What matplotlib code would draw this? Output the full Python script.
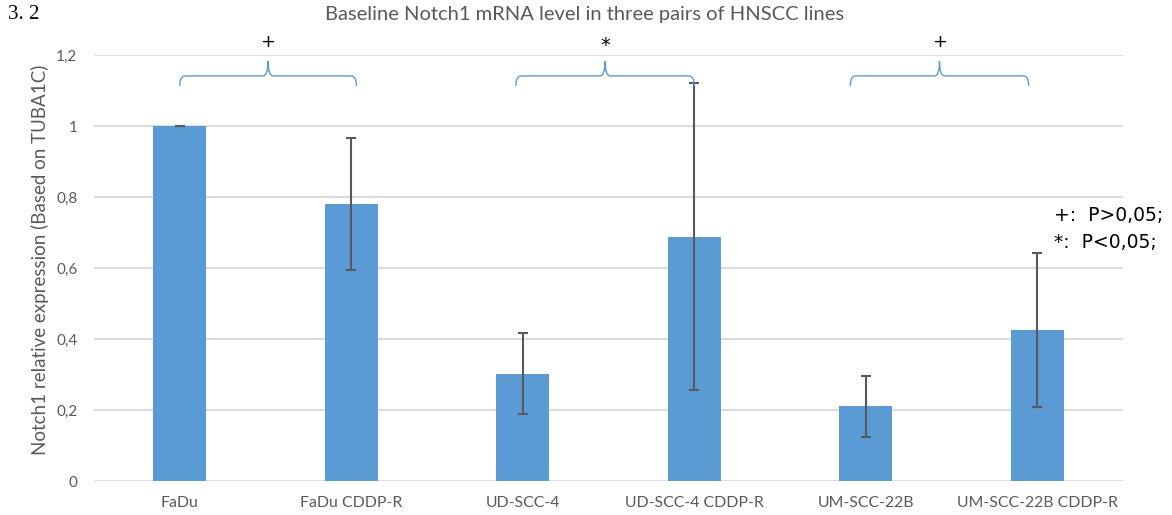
import matplotlib
matplotlib.use("Agg")
import matplotlib.pyplot as plt
from matplotlib.path import Path
from matplotlib.patches import PathPatch

# Notch1 expression per cell line (relative to TUBA1C)
cell_lines = ["FaDu", "FaDu CDDP-R", "UD-SCC-4", "UD-SCC-4 CDDP-R",
              "UM-SCC-22B", "UM-SCC-22B CDDP-R"]
expression = [1.0, 0.78, 0.302, 0.688, 0.21, 0.425]
errors = [0.0, 0.187, 0.114, 0.432, 0.085, 0.216]

# parental / resistant pairs: brace span on the x axis and significance mark
brace_spans = [(0.0, 1.03), (1.96, 3.0), (3.91, 4.95)]
pair_marks = ["+", "*", "+"]

yticks = [0, 0.2, 0.4, 0.6, 0.8, 1.0, 1.2]
ytick_labels = ["0", "0,2", "0,4", "0,6", "0,8", "1", "1,2"]

gray = "#595959"
blue = "#5B9BD5"

fig = plt.figure(figsize=(11.72, 5.15), dpi=100)
ax = fig.add_axes([0.0802, 0.066, 0.878, 0.8272])

x = list(range(len(cell_lines)))
ax.bar(x, expression, width=0.31, color=blue, zorder=2)
ax.errorbar(x, expression, yerr=errors, fmt="none", ecolor=gray,
            elinewidth=1.5, capsize=3.6, capthick=1.5, zorder=3)

ax.set_xlim(-0.5, 5.5)
ax.set_ylim(0, 1.2)
ax.set_yticks(yticks)
ax.set_yticklabels(ytick_labels, fontsize=11, color=gray, family="Lato")
ax.set_xticks(x)
ax.set_xticklabels(cell_lines, fontsize=11.4, color=gray, family="Lato")
ax.tick_params(length=0, pad=12, axis="y")
ax.tick_params(length=0, pad=11, axis="x")
ax.yaxis.grid(True, color="#D9D9D9", linewidth=1.3, zorder=0)
ax.set_axisbelow(True)
for s in ax.spines.values():
    s.set_visible(False)

ax.set_ylabel("Notch1 relative expression (Based on TUBA1C)", fontsize=13.5,
              color=gray, family="Lato", labelpad=5, y=0.52)


def brace(x0, x1, y=1.141, drop=0.028, rise=0.042, r=0.03):
    # curly brace opening downwards, tip pointing up in the middle
    xm = (x0 + x1) / 2
    verts = [
        (x0, y - drop), (x0, y), (x0 + r, y),
        (xm - r, y), (xm, y), (xm, y + rise),
        (xm, y), (xm + r, y),
        (x1 - r, y), (x1, y), (x1, y - drop),
    ]
    codes = [Path.MOVETO, Path.CURVE3, Path.CURVE3,
             Path.LINETO, Path.CURVE3, Path.CURVE3,
             Path.CURVE3, Path.CURVE3,
             Path.LINETO, Path.CURVE3, Path.CURVE3]
    ax.add_patch(PathPatch(Path(verts, codes), fill=False, edgecolor=blue,
                           linewidth=1.0, zorder=4))
    return xm


for (a, b), mark in zip(brace_spans, pair_marks):
    xm = brace(a, b)
    ax.text(xm, 1.226 if mark == "*" else 1.238, mark, ha="center",
            va="center", fontsize=13 if mark == "+" else 14,
            color="black", clip_on=False)

fig.text(0.499, 0.972, "Baseline Notch1 mRNA level in three pairs of HNSCC lines",
         ha="center", va="center", fontsize=14.5, color=gray, family="Lato")
fig.text(0.007, 0.972, "3. 2", ha="left", va="center", fontsize=15,
         color="black", family="Liberation Serif")

fig.text(0.899, 0.582, "+:  P>0,05;", ha="left", va="center", fontsize=13.5,
         color="black", family="DejaVu Sans")
fig.text(0.899, 0.529, "*:  P<0,05;", ha="left", va="center", fontsize=13.5,
         color="black", family="DejaVu Sans")

fig.savefig("out.png", dpi=100)
